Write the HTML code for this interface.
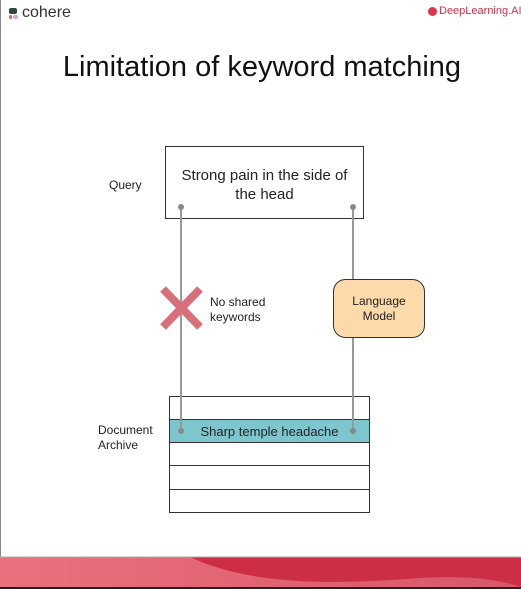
<!DOCTYPE html>
<html><head><style>
body{margin:0;width:521px;height:589px;overflow:hidden;background:#fff;font-family:"Liberation Sans",sans-serif;position:relative}
.a{position:absolute}
</style></head><body>
<div class="a" style="left:0;top:0;width:1px;height:589px;background:#888"></div>
<div class="a" style="left:9px;top:8px;width:8px;height:6px;background:#2f4a3c;border-radius:2px"></div>
<div class="a" style="left:9px;top:15px;width:3px;height:4px;background:#e8604c;border-radius:2px"></div>
<div class="a" style="left:13px;top:15px;width:5px;height:4px;background:#d6a3e0;border-radius:2px"></div>
<div class="a" style="left:22px;top:4px;font-size:16px;color:#333">cohere</div>
<div class="a" style="left:428px;top:7px;width:9px;height:9px;border-radius:50%;background:#e0344a"></div>
<div class="a" style="left:439px;top:5px;font-size:11px;color:#d23048">DeepLearning.AI</div>
<div class="a" style="left:0;top:51px;width:524px;text-align:center;font-size:29px;color:#111">Limitation of keyword matching</div>
<svg class="a" style="left:0;top:0" width="521" height="589">
<rect x="165.5" y="146.5" width="198" height="72" fill="#fff" stroke="#333"/>
<rect x="169.5" y="396.5" width="200" height="116" fill="#fff" stroke="#333"/>
<rect x="169.5" y="419.5" width="200" height="23" fill="#7dc6ce" stroke="#333"/>
<line x1="169" y1="465.5" x2="370" y2="465.5" stroke="#333"/>
<line x1="169" y1="489.5" x2="370" y2="489.5" stroke="#333"/>
<line x1="181" y1="207" x2="181" y2="431" stroke="#999" stroke-width="2"/>
<line x1="353" y1="207" x2="353" y2="431" stroke="#999" stroke-width="2"/>
<circle cx="181" cy="207" r="3" fill="#888"/><circle cx="353" cy="207" r="3" fill="#888"/>
<circle cx="181" cy="431" r="3" fill="#888"/><circle cx="353" cy="431" r="3" fill="#888"/>
<path d="M163 289L200 327M200 289L163 327" stroke="#d7707a" stroke-width="8"/>
<rect x="333.5" y="279.5" width="91" height="58" rx="12" fill="#fcdaa9" stroke="#333"/>
<defs><linearGradient id="g" x1="0" x2="1"><stop offset="0" stop-color="#e9717f"/><stop offset="1" stop-color="#d9566a"/></linearGradient></defs>
<rect x="0" y="557" width="521" height="32" fill="url(#g)"/>
<path d="M190 557 C250 585,330 585,420 578 C470 575,500 580,521 587 L521 557Z" fill="#cc2e45"/>
<line x1="0" y1="557" x2="521" y2="557" stroke="#aaa"/>
<rect x="0" y="587" width="521" height="2" fill="#222"/>
</svg>
<div class="a" style="left:165px;top:166px;width:199px;text-align:center;font-size:15px;line-height:19px;color:#222">Strong pain in the side of<br>the head</div>
<div class="a" style="left:109px;top:178px;font-size:12px;color:#222">Query</div>
<div class="a" style="left:210px;top:295px;font-size:12px;line-height:15px;color:#222">No shared<br>keywords</div>
<div class="a" style="left:333px;top:294px;width:92px;text-align:center;font-size:12px;line-height:15px;color:#222">Language<br>Model</div>
<div class="a" style="left:98px;top:423px;font-size:12px;line-height:15px;color:#222">Document<br>Archive</div>
<div class="a" style="left:169px;top:424px;width:201px;text-align:center;font-size:13px;color:#222">Sharp temple headache</div>
</body></html>
